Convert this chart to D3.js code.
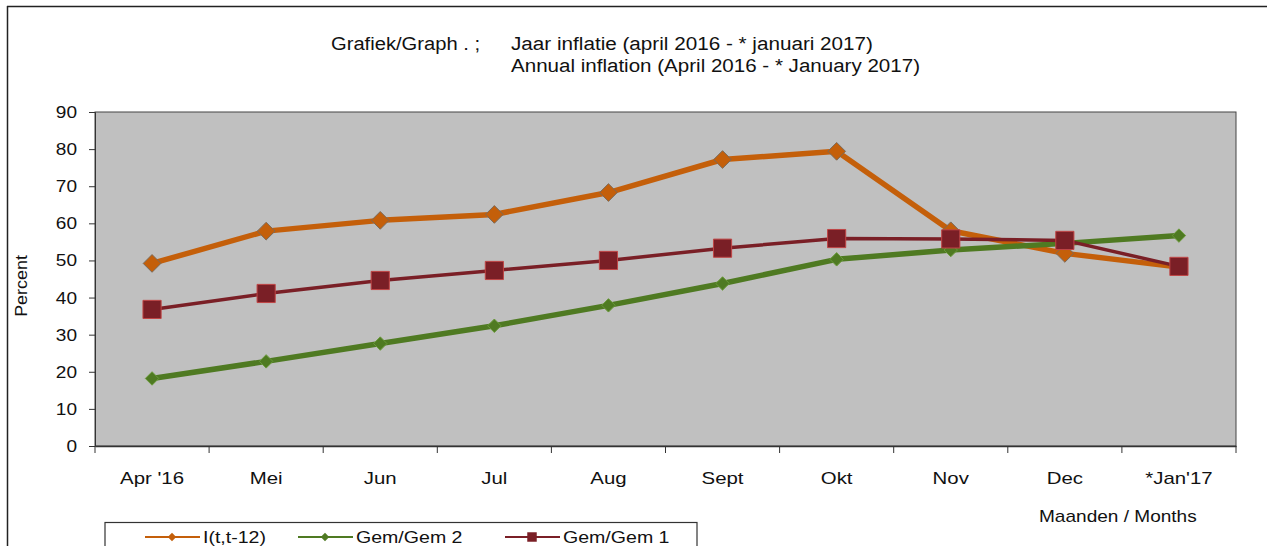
<!DOCTYPE html>
<html>
<head>
<meta charset="utf-8">
<script src="https://cdn.jsdelivr.net/npm/d3@7"></script>
<style>
  body { margin: 0; background: #fff; }
  svg { display: block; font-family: "Liberation Sans", Arial, sans-serif; }
</style>
</head>
<body>
<svg id="chart" width="1267" height="546"></svg>
<script>
// months on the x axis
const months = ["Apr  '16", "Mei", "Jun", "Jul", "Aug", "Sept", "Okt", "Nov", "Dec", "*Jan'17"];
const yTicks = [0, 10, 20, 30, 40, 50, 60, 70, 80, 90];

// series values (percent)
const inflatie = [49.2, 57.9, 60.8, 62.4, 68.3, 77.2, 79.4, 58.0, 51.9, 48.2];
const gem2 = [18.2, 22.8, 27.6, 32.4, 37.9, 43.8, 50.3, 52.8, 54.6, 56.7];
const gem1 = [36.8, 41.1, 44.6, 47.3, 50.0, 53.3, 55.9, 55.8, 55.4, 48.4];

const seriesNames = ["I(t,t-12)", "Gem/Gem 2", "Gem/Gem 1"];

const svg = d3.select("#chart");
const margin = { left: 95, right: 1236, top: 112, bottom: 446 };

// widen text a bit, the original font is broad
function stretch(sel, factor) {
    sel.each(function () {
        const w = this.getComputedTextLength();
        d3.select(this).attr("textLength", w * factor).attr("lengthAdjust", "spacingAndGlyphs");
    });
}

// outer frame (top and left only visible)
svg.append("line").attr("x1", 7).attr("x2", 1267).attr("y1", 6.5).attr("y2", 6.5)
    .attr("stroke", "#222").attr("stroke-width", 1.5);
svg.append("line").attr("x1", 7.5).attr("x2", 7.5).attr("y1", 6).attr("y2", 546)
    .attr("stroke", "#222").attr("stroke-width", 1.5);

const x = d3.scaleBand().domain(months).range([margin.left, margin.right]);
const y = d3.scaleLinear().domain([0, 90]).range([margin.bottom, margin.top]);

// plot area
svg.append("rect")
    .attr("x", margin.left).attr("y", margin.top)
    .attr("width", margin.right - margin.left).attr("height", margin.bottom - margin.top)
    .attr("fill", "#c0c0c0").attr("stroke", "#444").attr("stroke-width", 1);

// y axis
const yAxis = svg.append("g")
    .attr("transform", `translate(${margin.left},0)`)
    .call(d3.axisLeft(y).tickValues(yTicks).tickSize(6).tickPadding(12));
yAxis.select(".domain").attr("stroke", "#333");
yAxis.selectAll(".tick line").attr("stroke", "#333");
yAxis.selectAll("text").attr("font-size", 17).attr("fill", "#111");
stretch(yAxis.selectAll("text"), 1.12);

// x axis: ticks at band edges
const xAxis = svg.append("g")
    .attr("transform", `translate(0,${margin.bottom})`)
    .call(d3.axisBottom(x).tickSize(0).tickPadding(26));
xAxis.select(".domain").attr("stroke", "#333").attr("stroke-width", 1.5);
xAxis.selectAll("text").attr("font-size", 17).attr("fill", "#111");
stretch(xAxis.selectAll("text"), 1.2);
xAxis.selectAll(".edge")
    .data(months.map(m => x(m)).concat([margin.right]))
    .enter().append("line")
    .attr("class", "edge")
    .attr("x1", d => d).attr("x2", d => d)
    .attr("y1", 0).attr("y2", 7)
    .attr("stroke", "#333");

// titles
const t1 = svg.append("text").attr("x", 331).attr("y", 50).attr("font-size", 18).attr("fill", "#111")
    .text("Grafiek/Graph . ;");
const t2 = svg.append("text").attr("x", 511).attr("y", 50).attr("font-size", 18).attr("fill", "#111")
    .text("Jaar inflatie  (april 2016 - * januari 2017)");
const t3 = svg.append("text").attr("x", 511).attr("y", 72).attr("font-size", 18).attr("fill", "#111")
    .text("Annual inflation (April 2016 - * January 2017)");
t1.attr("textLength", 149).attr("lengthAdjust", "spacingAndGlyphs");
t2.attr("textLength", 362).attr("lengthAdjust", "spacingAndGlyphs");
t3.attr("textLength", 409).attr("lengthAdjust", "spacingAndGlyphs");

const yLabel = svg.append("text")
    .attr("transform", "translate(27,286) rotate(-90)")
    .attr("text-anchor", "middle").attr("font-size", 16).attr("fill", "#111")
    .text("Percent");
stretch(yLabel, 1.12);

const xLabel = svg.append("text").attr("x", 1039).attr("y", 522).attr("font-size", 17).attr("fill", "#111")
    .text("Maanden / Months");
stretch(xLabel, 1.12);

// lines
const series = [
    { name: seriesNames[0], values: inflatie, color: "#c45f0a", width: 5.5, marker: "diamond", size: 200, mstroke: "#7a6a5a" },
    { name: seriesNames[1], values: gem2, color: "#4f7a22", width: 5.5, marker: "diamond", size: 115, mstroke: "#6a9a3a" },
    { name: seriesNames[2], values: gem1, color: "#7a1f26", width: 3.5, marker: "square", size: 330, mstroke: "#c04545" }
];

const line = d3.line()
    .x((d, i) => x(months[i]) + x.bandwidth() / 2)
    .y(d => y(d));

series.forEach(s => {
    svg.append("path")
        .datum(s.values)
        .attr("d", line)
        .attr("fill", "none")
        .attr("stroke", s.color)
        .attr("stroke-width", s.width)
        .attr("stroke-linejoin", "round");
});

series.forEach(s => {
    const sym = d3.symbol().type(s.marker === "square" ? d3.symbolSquare : d3.symbolDiamond2).size(s.size);
    svg.selectAll(null)
        .data(s.values)
        .enter().append("path")
        .attr("d", sym)
        .attr("transform", (d, i) => `translate(${x(months[i]) + x.bandwidth() / 2},${y(d)})`)
        .attr("fill", s.color)
        .attr("stroke", s.mstroke)
        .attr("stroke-width", 1);
});

// legend
const legend = svg.append("g");
legend.append("rect")
    .attr("x", 105).attr("y", 522.5).attr("width", 592).attr("height", 40)
    .attr("fill", "#fff").attr("stroke", "#333").attr("stroke-width", 1.2);

const legendX = [145, 298, 505];
series.forEach((s, i) => {
    const g = legend.append("g").attr("transform", `translate(${legendX[i]},537)`);
    g.append("line").attr("x1", 0).attr("x2", 55).attr("y1", 0).attr("y2", 0)
        .attr("stroke", s.color).attr("stroke-width", 2);
    g.append("path")
        .attr("d", d3.symbol().type(s.marker === "square" ? d3.symbolSquare : d3.symbolDiamond2).size(s.marker === "square" ? 90 : 45))
        .attr("transform", "translate(27,0)")
        .attr("fill", s.color);
    const txt = g.append("text").attr("x", 58).attr("y", 6).attr("font-size", 17).attr("fill", "#111")
        .text(s.name);
    stretch(txt, 1.15);
});
</script>
</body>
</html>
